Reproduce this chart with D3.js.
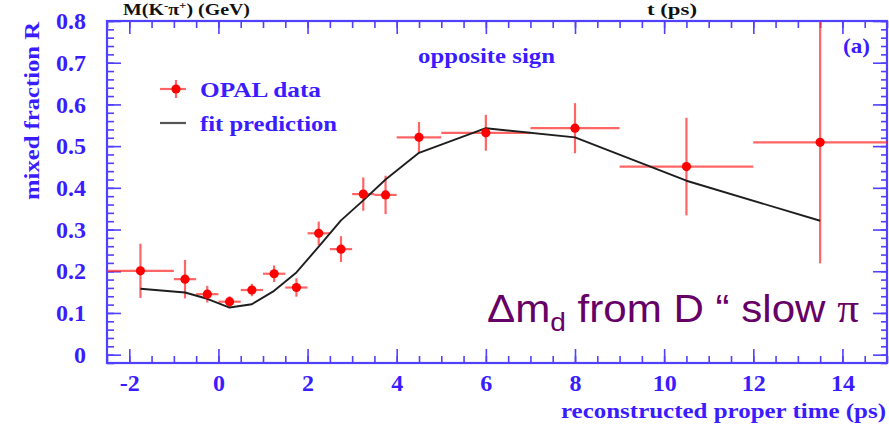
<!DOCTYPE html>
<html>
<head>
<meta charset="utf-8">
<script src="https://cdn.jsdelivr.net/npm/d3@7"></script>
<style>
  html, body { margin: 0; padding: 0; background: #ffffff; }
  svg { display: block; }
</style>
</head>
<body>
<svg id="chart" width="889" height="428"></svg>
<script>
// Time bins (ps) and bin centres
const binLow  = [-2.5, -1, -0.5, 0, 0.5, 1, 1.5, 2, 2.5, 3, 3.5, 4, 5, 7, 9, 12];
const binHigh = [-1, -0.5, 0, 0.5, 1, 1.5, 2, 2.5, 3, 3.5, 4, 5, 7, 9, 12, 15];
const tCenter = [-1.75, -0.75, -0.25, 0.25, 0.75, 1.25, 1.75, 2.25, 2.75, 3.25, 3.75, 4.5, 6, 8, 10.5, 13.5];
// Measured mixed fraction R with its uncertainty
const mixedR  = [0.201, 0.181, 0.145, 0.127, 0.155, 0.194, 0.161, 0.291, 0.253, 0.385, 0.383, 0.521, 0.532, 0.543, 0.451, 0.509];
const errR    = [0.065, 0.046, 0.020, 0.013, 0.015, 0.020, 0.022, 0.028, 0.031, 0.040, 0.046, 0.037, 0.043, 0.060, 0.117, 0.290];
// Fit prediction at each bin centre
const fitR    = [0.158, 0.149, 0.134, 0.113, 0.121, 0.153, 0.197, 0.259, 0.322, 0.370, 0.420, 0.484, 0.543, 0.521, 0.417, 0.321];
// Axis ticks
const xMajor = [-2, 0, 2, 4, 6, 8, 10, 12, 14];
const xMinor = d3.range(-2.5, 15.01, 0.5);
const yMajor = [0, 0.1, 0.2, 0.3, 0.4, 0.5, 0.6, 0.7, 0.8];
const yMinor = d3.range(-0.02, 0.801, 0.02);

const BLUE_TXT = "#3a1cff";
const BLUE_AX = "#5040ff";
const SERIF = "'Liberation Serif', 'Times New Roman', serif";

const svg = d3.select("#chart");
const L = 107, R = 887, T = 21, B = 363;
const x = d3.scaleLinear().domain([-2.5, 15]).range([L, R]);
const y = d3.scaleLinear().domain([-0.02, 0.8]).range([B, T]);

const data = tCenter.map((t, i) => ({
  t, lo: binLow[i], hi: binHigh[i], r: mixedR[i], e: errR[i], f: fitR[i]
}));

// ---- axes (ticks point inward on all four sides) ----
function styleAxis(g) {
  g.select(".domain").remove();
  g.selectAll(".tick line").attr("stroke", BLUE_AX).attr("stroke-width", 1.6);
  g.selectAll(".tick text")
    .attr("fill", BLUE_TXT)
    .style("font-family", SERIF)
    .style("font-weight", "bold")
    .style("font-size", "24px");
}

// bottom
svg.append("g").attr("transform", `translate(0,${B})`)
  .call(d3.axisBottom(x).tickValues(xMinor).tickSize(-7).tickFormat(""))
  .call(styleAxis);
svg.append("g").attr("transform", `translate(0,${B})`)
  .call(d3.axisBottom(x).tickValues(xMajor).tickSizeInner(-14).tickSizeOuter(0)
        .tickPadding(11).tickFormat(d => String(d)))
  .call(styleAxis);
// top
svg.append("g").attr("transform", `translate(0,${T})`)
  .call(d3.axisTop(x).tickValues(xMinor).tickSize(-7).tickFormat(""))
  .call(styleAxis);
svg.append("g").attr("transform", `translate(0,${T})`)
  .call(d3.axisTop(x).tickValues(xMajor).tickSize(-13).tickFormat(""))
  .call(styleAxis);
// left
svg.append("g").attr("transform", `translate(${L},0)`)
  .call(d3.axisLeft(y).tickValues(yMinor).tickSize(-7).tickFormat(""))
  .call(styleAxis);
svg.append("g").attr("transform", `translate(${L},0)`)
  .call(d3.axisLeft(y).tickValues(yMajor).tickSizeInner(-14).tickSizeOuter(0)
        .tickPadding(21).tickFormat(d => d === 0 ? "0" : d3.format(".1f")(d)))
  .call(styleAxis);
// right
svg.append("g").attr("transform", `translate(${R},0)`)
  .call(d3.axisRight(y).tickValues(yMinor).tickSize(-6).tickFormat(""))
  .call(styleAxis);
svg.append("g").attr("transform", `translate(${R},0)`)
  .call(d3.axisRight(y).tickValues(yMajor).tickSize(-14).tickFormat(""))
  .call(styleAxis);

// frame
svg.append("rect")
  .attr("x", L).attr("y", T).attr("width", R - L).attr("height", B - T)
  .attr("fill", "none").attr("stroke", BLUE_AX).attr("stroke-width", 2.2);

// ---- data ----
svg.append("clipPath").attr("id", "plotclip")
  .append("rect").attr("x", L).attr("y", T).attr("width", R - L).attr("height", B - T);
const plot = svg.append("g").attr("clip-path", "url(#plotclip)");

const errG = plot.append("g")
  .attr("stroke", "#ff2a2a").attr("stroke-opacity", 0.72).attr("stroke-width", 2.2);
errG.selectAll("line.h").data(data).join("line").attr("class", "h")
  .attr("x1", d => x(d.lo)).attr("x2", d => x(d.hi))
  .attr("y1", d => y(d.r)).attr("y2", d => y(d.r));
errG.selectAll("line.v").data(data).join("line").attr("class", "v")
  .attr("x1", d => x(d.t)).attr("x2", d => x(d.t))
  .attr("y1", d => y(d.r - d.e)).attr("y2", d => y(d.r + d.e));

// fit prediction
plot.append("path").datum(data)
  .attr("fill", "none").attr("stroke", "#1e1e1e").attr("stroke-width", 1.9)
  .attr("stroke-linejoin", "round")
  .attr("d", d3.line().x(d => x(d.t)).y(d => y(d.f)));

plot.append("g").selectAll("circle").data(data).join("circle")
  .attr("cx", d => x(d.t)).attr("cy", d => y(d.r)).attr("r", 4.6)
  .attr("fill", "#ff0000");

// ---- legend ----
const leg = svg.append("g");
leg.append("line").attr("x1", 160).attr("x2", 186).attr("y1", 89).attr("y2", 89)
  .attr("stroke", "#ff2a2a").attr("stroke-opacity", 0.72).attr("stroke-width", 2.2);
leg.append("line").attr("x1", 176).attr("x2", 176).attr("y1", 80).attr("y2", 98)
  .attr("stroke", "#ff2a2a").attr("stroke-opacity", 0.72).attr("stroke-width", 2.2);
leg.append("circle").attr("cx", 176).attr("cy", 89).attr("r", 4.6).attr("fill", "#ff0000");
leg.append("line").attr("x1", 160).attr("x2", 186).attr("y1", 123).attr("y2", 123)
  .attr("stroke", "#555555").attr("stroke-width", 2.2);

function label(txt, px, py, size, len, opts = {}) {
  const t = svg.append("text")
    .attr("x", px).attr("y", py)
    .attr("fill", opts.fill || BLUE_TXT)
    .style("font-family", opts.family || SERIF)
    .style("font-weight", opts.weight || "bold")
    .style("font-size", size + "px")
    .attr("text-anchor", opts.anchor || "start")
    .text(txt);
  if (len) t.attr("textLength", len).attr("lengthAdjust", "spacingAndGlyphs");
  if (opts.transform) t.attr("transform", opts.transform);
  return t;
}

label("OPAL data", 200, 97, 22, 121);
label("fit prediction", 200, 131, 22, 137);
label("opposite sign", 418, 63, 22, 137);
label("(a)", 843, 53, 22, 27);

// axis titles
label("reconstructed proper time (ps)", 886, 418, 22, 325, { anchor: "end" });
label("mixed fraction R", 0, 0, 22, 178,
      { anchor: "end", transform: "translate(39,22) rotate(-90)" });

// top titles (black)
const topT = svg.append("text").attr("x", 123).attr("y", 15)
  .attr("fill", "#111111").style("font-family", SERIF).style("font-weight", "bold")
  .style("font-size", "17px").attr("textLength", 127).attr("lengthAdjust", "spacingAndGlyphs");
topT.append("tspan").text("M(K");
topT.append("tspan").attr("dy", -6).style("font-size", "11px").text("-");
topT.append("tspan").attr("dy", 6).text("π");
topT.append("tspan").attr("dy", -6).style("font-size", "11px").text("+");
topT.append("tspan").attr("dy", 6).text(") (GeV)");
label("t (ps)", 647, 15, 17, 50, { fill: "#111111" });

// annotation
const ann = svg.append("g").attr("transform", "translate(487,322) scale(1.08,1)");
const at = ann.append("text").attr("x", 0).attr("y", 0)
  .attr("fill", "#660066")
  .style("font-family", "'Liberation Sans', Arial, sans-serif")
  .style("font-size", "39px");
at.append("tspan").text("Δm");
at.append("tspan").attr("dy", 9).style("font-size", "26px").text("d");
at.append("tspan").attr("dy", -9).text(" from D “ slow ");
at.append("tspan").style("font-family", SERIF).style("font-size", "40px").text("π");
</script>
</body>
</html>
